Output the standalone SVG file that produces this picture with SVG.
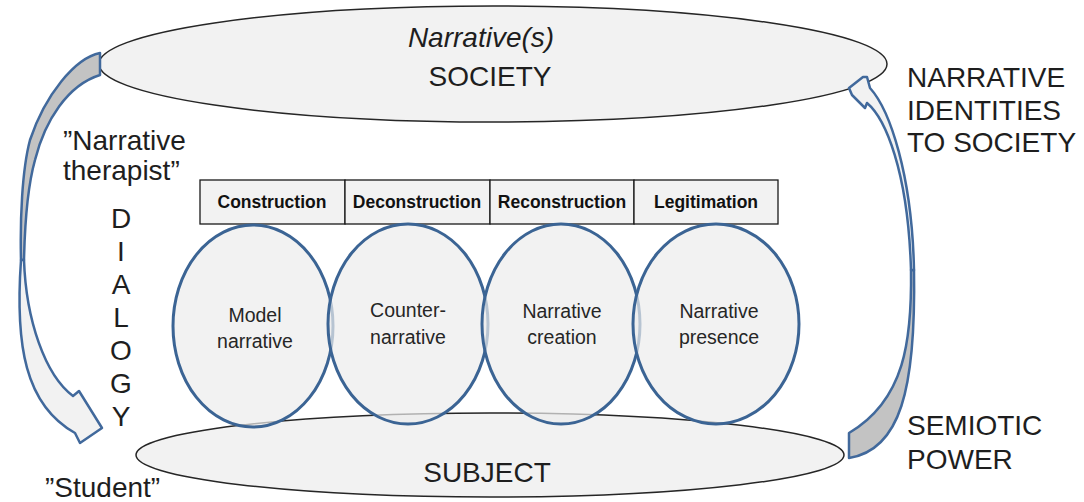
<svg xmlns="http://www.w3.org/2000/svg" width="1084" height="502" viewBox="0 0 1084 502">
<style>
.big{font-family:"Liberation Sans",Arial,sans-serif;font-size:28px;fill:#1e1e1e}
.ell{fill:#f2f2f2;stroke:#262626;stroke-width:1.5}
.box{fill:#f2f2f2;stroke:#1a1a1a;stroke-width:1.3}
.btxt{font-family:"Liberation Sans",Arial,sans-serif;font-size:17.5px;font-weight:bold;fill:#111;text-anchor:middle}
.circ{fill:#ececec;fill-opacity:0.7;stroke:#3b6494;stroke-width:3}
.ctxt{font-family:"Liberation Sans",Arial,sans-serif;font-size:19.5px;fill:#262626;text-anchor:middle}
.arr{stroke:#41699c;stroke-width:2.5;stroke-linejoin:round}
.back{fill:#c3c3c3}
.front{fill:#f2f2f2}
</style>
<rect width="1084" height="502" fill="#ffffff"/>

<g id="society">
<ellipse class="ell" cx="493" cy="64" rx="394" ry="58"/>
<text class="big" x="481" y="47" text-anchor="middle" font-style="italic">Narrative(s)</text>
<text class="big" x="490" y="86" text-anchor="middle">SOCIETY</text>
</g>

<g id="subject">
<ellipse class="ell" cx="490" cy="455" rx="354" ry="42"/>
<text class="big" x="487" y="482" text-anchor="middle">SUBJECT</text>
</g>

<g id="connectors">
<g id="dialogy-arrow">
<path class="arr back" d="M100,53 C75,58 45,95 30,140 C22,170 20,220 21,260 L24,260 C25,215 28,185 35,160 C45,120 68,85 100,75 Z"/>
<path class="arr front" d="M21,260 C15,345 25,405 75,433 L80,443 L102,428 L79,391 L73,396 C45,375 26,320 24,260 Z"/>
</g>
<g id="power-arrow">
<path class="arr back" d="M911,270 C912,340 905,400 849,433 L849,458 C900,450 916,390 914,270 Z"/>
<path class="arr front" d="M863,77 L849,88 L852,95 L865,108 L867,103 C885,118 908,170 911,270 L914,270 C912,175 890,110 870,88 L867,77 Z"/>
</g>
</g>

<g id="stages">
<rect class="box" x="200" y="180" width="145" height="44"/>
<rect class="box" x="345" y="180" width="145" height="44"/>
<rect class="box" x="490" y="180" width="144" height="44"/>
<rect class="box" x="634" y="180" width="144" height="44"/>
<text class="btxt" x="272" y="208">Construction</text>
<text class="btxt" x="417" y="208">Deconstruction</text>
<text class="btxt" x="562" y="208">Reconstruction</text>
<text class="btxt" x="706" y="208">Legitimation</text>
</g>

<g id="model-narrative">
<ellipse class="circ" cx="253" cy="326" rx="80" ry="101"/>
<text class="ctxt" x="255" y="322">Model</text>
<text class="ctxt" x="255" y="348">narrative</text>
</g>
<g id="counter-narrative">
<ellipse class="circ" cx="408" cy="324" rx="80" ry="100"/>
<text class="ctxt" x="408" y="317">Counter-</text>
<text class="ctxt" x="408" y="344">narrative</text>
</g>
<g id="narrative-creation">
<ellipse class="circ" cx="561" cy="324" rx="79" ry="100"/>
<text class="ctxt" x="562" y="318">Narrative</text>
<text class="ctxt" x="562" y="344">creation</text>
</g>
<g id="narrative-presence">
<ellipse class="circ" cx="716" cy="324" rx="83" ry="100"/>
<text class="ctxt" x="719" y="318">Narrative</text>
<text class="ctxt" x="719" y="344">presence</text>
</g>

<g id="labels">
<text class="big" x="63" y="150">”Narrative</text>
<text class="big" x="63" y="180">therapist”</text>
<g text-anchor="middle">
<text class="big" x="121" y="228">D</text>
<text class="big" x="121" y="261">I</text>
<text class="big" x="121" y="294">A</text>
<text class="big" x="121" y="327">L</text>
<text class="big" x="121" y="360">O</text>
<text class="big" x="121" y="393">G</text>
<text class="big" x="121" y="426">Y</text>
</g>
<text class="big" x="45" y="497">”Student”</text>
<text class="big" x="907" y="87">NARRATIVE</text>
<text class="big" x="907" y="120">IDENTITIES</text>
<text class="big" x="907" y="152">TO SOCIETY</text>
<text class="big" x="907" y="435">SEMIOTIC</text>
<text class="big" x="907" y="469">POWER</text>
</g>
</svg>
